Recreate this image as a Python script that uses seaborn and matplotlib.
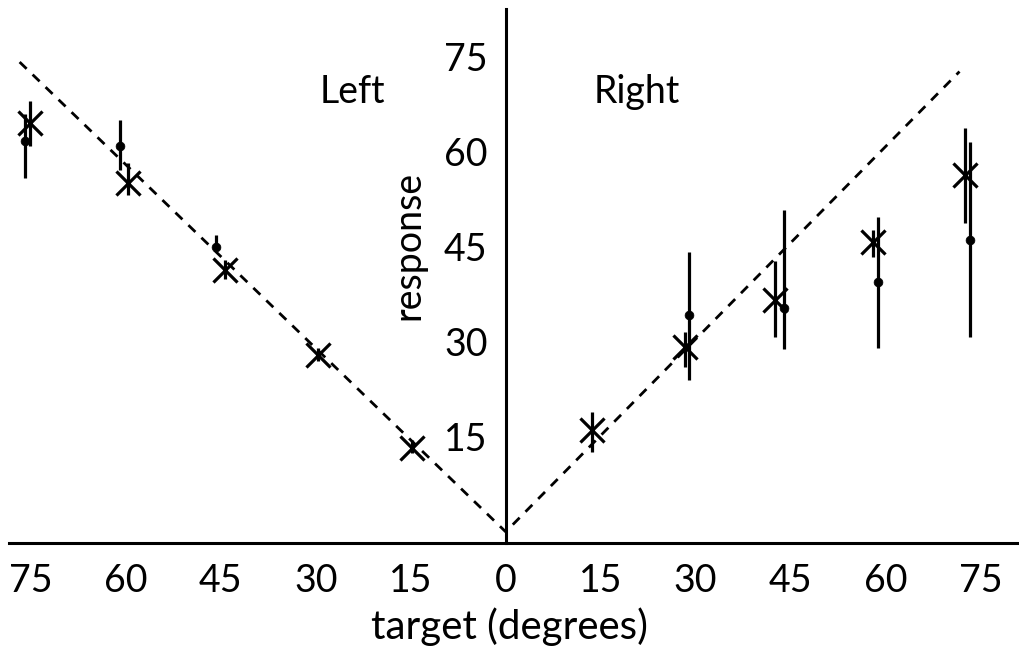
import matplotlib
matplotlib.use("Agg")
from matplotlib import pyplot as plt
import pandas as pd
import seaborn as sns

# marker "x": mean response, with its own bar
cross_x = [-75.2, -59.7, -44.4, -29.7, -14.8, 13.6, 28.3, 42.5, 58.0, 72.5]
cross_y = [64.6, 55.1, 41.4, 28.0, 13.3, 16.1, 29.2, 36.6, 45.8, 56.4]
cross_lo = [61.0, 53.2, 40.0, 27.0, 12.5, 12.6, 26.0, 30.8, 43.4, 48.8]
cross_hi = [68.0, 58.3, 43.0, 29.0, 14.5, 19.0, 31.5, 42.7, 47.7, 63.8]

# small dots: second measure, with longer bars
dot_x = [-76.0, -61.0, -45.8, 28.9, 44.0, 58.8, 73.3]
dot_y = [61.7, 60.9, 45.0, 34.3, 35.4, 39.5, 46.1]
dot_lo = [55.9, 57.2, 44.5, 24.0, 28.8, 29.1, 30.8]
dot_hi = [66.0, 65.1, 46.9, 44.2, 50.9, 49.8, 61.6]

# dashed "perfect response" line
ideal_x = [-76.8, 0.0, 71.7]
ideal_y = [74.2, 0.0, 72.7]

x_ticks = [-75, -60, -45, -30, -15, 0, 15, 30, 45, 60, 75]
y_ticks = [15, 30, 45, 60, 75]

crosses = pd.DataFrame({"target": cross_x, "response": cross_y})
dots = pd.DataFrame({"target": dot_x, "response": dot_y})
ideal = pd.DataFrame({"target": ideal_x, "response": ideal_y})

sns.set_style("white")
plt.rcParams["font.family"] = ["Lato", "DejaVu Sans"]
plt.rcParams["text.color"] = "black"
plt.rcParams["xtick.color"] = "black"
plt.rcParams["ytick.color"] = "black"

fig = plt.figure(figsize=(10.19, 6.54), dpi=100)
ax = fig.add_axes([0, 0, 1, 1])

sns.lineplot(data=ideal, x="target", y="response", ax=ax, color="black",
             linewidth=2.0, linestyle=(0, (3.5, 3)), sort=False)

ax.vlines(cross_x, cross_lo, cross_hi, color="black", linewidth=2.3)
ax.vlines(dot_x, dot_lo, dot_hi, color="black", linewidth=2.3)

sns.scatterplot(data=crosses, x="target", y="response", ax=ax, marker="x",
                s=300, color="black", linewidth=2.3, zorder=5)
sns.scatterplot(data=dots, x="target", y="response", ax=ax, marker="o",
                s=40, color="black", edgecolor="black", zorder=5)

ax.set_xlim(-79.9, 81.1)
ax.set_ylim(-19.3, 84.0)

for side in ["top", "right"]:
    ax.spines[side].set_visible(False)
ax.spines["left"].set_position(("data", 0))
ax.spines["bottom"].set_position(("data", -1.8))
ax.spines["left"].set_bounds(-1.8, 82.5)
ax.spines["bottom"].set_bounds(-78.4, 81.1)
for side in ["left", "bottom"]:
    ax.spines[side].set_linewidth(2.2)
    ax.spines[side].set_color("black")

ax.set_xticks(x_ticks)
ax.set_xticklabels([str(abs(t)) for t in x_ticks])
ax.set_yticks(y_ticks)
ax.set_yticklabels([str(t) for t in y_ticks])
ax.tick_params(axis="x", direction="in", length=5, width=1.5, pad=14,
               labelsize=27)
ax.tick_params(axis="y", direction="out", length=3, width=1.5, pad=10,
               labelsize=27)
ax.set_xlabel("")
ax.set_ylabel("")

ax.text(-24.3, 69.4, "Left", fontsize=27, ha="center", va="center")
ax.text(20.7, 69.4, "Right", fontsize=27, ha="center", va="center")
ax.text(-15.3, 45.3, "response", fontsize=27, rotation=90,
        ha="center", va="center")
ax.text(0.6, -15.0, "target (degrees)", fontsize=29, ha="center",
        va="center")

plt.savefig("out.png", dpi=100)
plt.close()
